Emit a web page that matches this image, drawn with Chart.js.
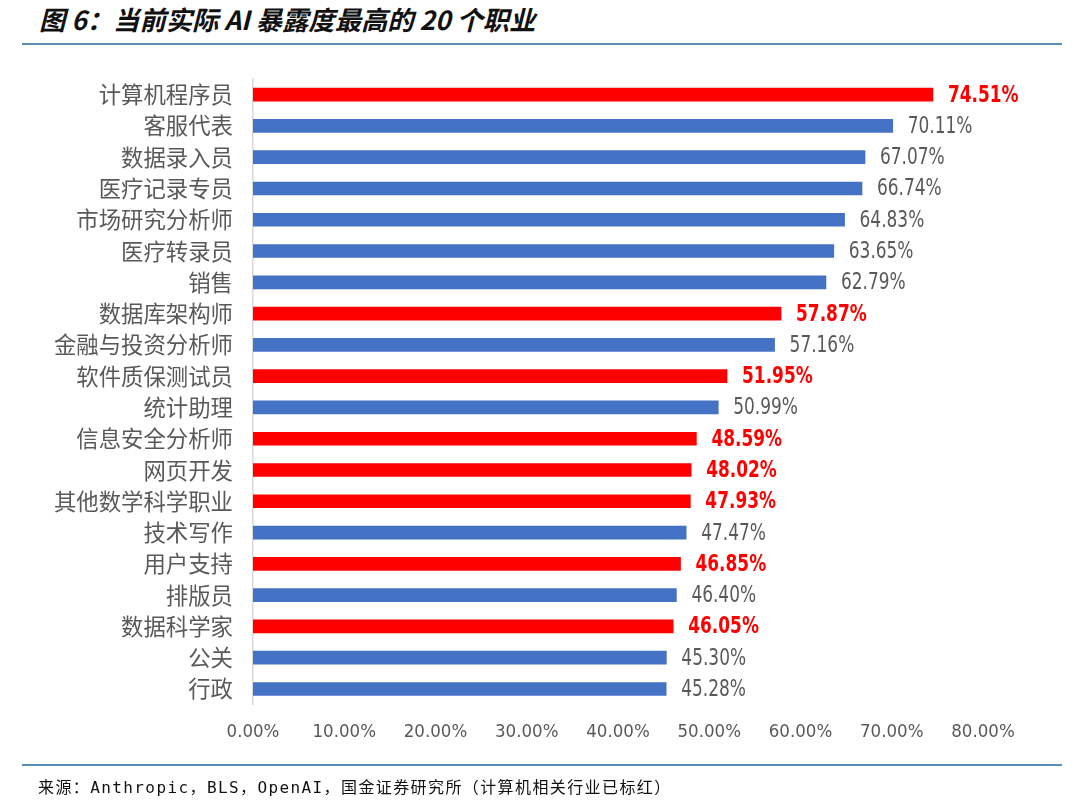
<!DOCTYPE html>
<html>
<head>
<meta charset="utf-8">
<script src="https://cdn.jsdelivr.net/npm/chart.js@4.4.0/dist/chart.umd.min.js"></script>
<style>
  html, body { margin:0; padding:0; background:#fff; }
  body { width:1080px; height:808px; position:relative; overflow:hidden; }
  #title { position:absolute; left:39px; top:2px; font-family:"Noto Sans CJK SC", sans-serif; font-weight:bold; font-style:italic; font-size:26.3px; color:#111; white-space:nowrap; line-height:34px; }
  #tline { position:absolute; left:22px; top:43px; width:1040px; height:2px; background:#5b8db5; }
  #bline { position:absolute; left:22px; top:764px; width:1040px; height:2px; background:#5b8db5; }
  #foot { position:absolute; left:38px; top:777px; font-family:"DejaVu Sans Mono", "Noto Sans CJK SC", monospace; font-size:16px; letter-spacing:1.4px; color:#111; white-space:nowrap; line-height:22px; }
  #wrap { position:absolute; left:0; top:0; width:1080px; height:808px; }
</style>
</head>
<body>
<div id="title">图 6：当前实际 AI 暴露度最高的 20 个职业</div>
<div id="tline"></div>
<div id="wrap"><canvas id="c" width="1080" height="808"></canvas></div>
<div id="bline"></div>
<div id="foot">来源：Anthropic，BLS，OpenAI，国金证券研究所（计算机相关行业已标红）</div>
<script>
const categories = ["计算机程序员","客服代表","数据录入员","医疗记录专员","市场研究分析师","医疗转录员","销售","数据库架构师","金融与投资分析师","软件质保测试员","统计助理","信息安全分析师","网页开发","其他数学科学职业","技术写作","用户支持","排版员","数据科学家","公关","行政"];
const values = [74.51,70.11,67.07,66.74,64.83,63.65,62.79,57.87,57.16,51.95,50.99,48.59,48.02,47.93,47.47,46.85,46.40,46.05,45.30,45.28];
const isComputer = [true,false,false,false,false,false,false,true,false,true,false,true,true,true,false,true,false,true,false,false];
const xTicks = [0,10,20,30,40,50,60,70,80];

const RED = "#FF0000", BLUE = "#4472C4", GRAY = "#595959";
const narrow = "'Liberation Sans Narrow', 'DejaVu Sans Condensed', sans-serif";

const valueLabels = {
  id: "valueLabels",
  afterDatasetsDraw(chart) {
    const ctx = chart.ctx;
    const meta = chart.getDatasetMeta(0);
    const sx = 0.82;
    meta.data.forEach((bar, i) => {
      const red = isComputer[i];
      ctx.save();
      ctx.textAlign = "left";
      ctx.textBaseline = "middle";
      ctx.font = (red ? "bold " : "") + "23px " + narrow;
      ctx.fillStyle = red ? RED : GRAY;
      ctx.translate(bar.x + 15, bar.y + 1);
      ctx.scale(sx, 1);
      ctx.fillText(values[i].toFixed(2) + "%", 0, 0);
      ctx.restore();
    });
  }
};

new Chart(document.getElementById("c"), {
  type: "bar",
  data: {
    labels: categories,
    datasets: [{
      data: values,
      backgroundColor: isComputer.map(r => r ? RED : BLUE),
      barThickness: 13,
      borderWidth: 0
    }]
  },
  options: {
    indexAxis: "y",
    responsive: false,
    animation: false,
    layout: { padding: { top: 79, right: 97, bottom: 0, left: 0 } },
    plugins: { legend: { display: false }, tooltip: { enabled: false } },
    scales: {
      x: {
        min: 0, max: 80,
        afterFit(scale) { scale.height = 103.4; },
        afterBuildTicks(scale) { scale.ticks = xTicks.map(v => ({ value: v })); },
        grid: { display: false, drawTicks: false },
        border: { display: false },
        ticks: {
          padding: 16,
          color: GRAY,
          font: { family: narrow, size: 18.5 },
          callback: v => Number(v).toFixed(2) + "%"
        }
      },
      y: {
        afterFit(scale) { scale.width = 253; },
        grid: { display: false, drawTicks: false },
        border: { display: true, color: "#D9D9D9", width: 1.5 },
        ticks: {
          padding: 20,
          color: GRAY,
          font: { family: "'Noto Sans CJK SC', sans-serif", size: 22.4 }
        }
      }
    }
  },
  plugins: [valueLabels]
});
</script>
</body>
</html>
